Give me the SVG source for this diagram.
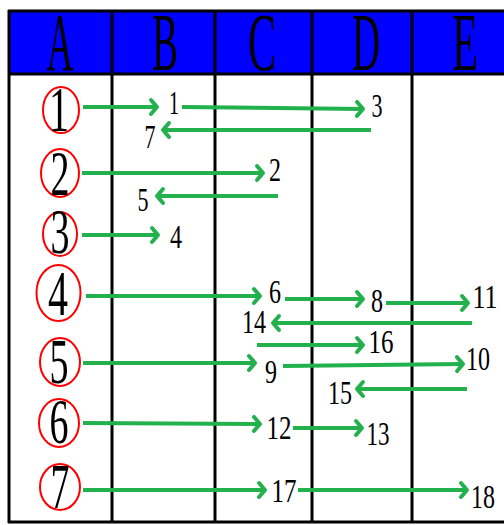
<svg xmlns="http://www.w3.org/2000/svg" width="504" height="525" viewBox="0 0 504 525">
<style>
.grid{stroke:#000;stroke-width:3;fill:none}
.hdr{font-family:"Liberation Serif",serif;font-size:82px;fill:#000;text-anchor:middle}
.circ{fill:none;stroke:#ff0000;stroke-width:2}
.cd{font-family:"Liberation Serif",serif;font-size:64px;fill:#000;text-anchor:middle}
.lbl{font-family:"Liberation Serif",serif;font-size:33px;fill:#000;text-anchor:middle}
.ar{stroke:#22b14c;stroke-width:4;fill:none;marker-end:url(#ah)}
</style>
<defs>
<marker id="ah" markerUnits="userSpaceOnUse" markerWidth="20" markerHeight="20" viewBox="-10 -10 20 20" refX="0" refY="0" orient="auto">
<path d="M-6,-7 L0,0 L-6,7" fill="none" stroke="#22b14c" stroke-width="4" stroke-linecap="round" stroke-linejoin="round"/>
</marker>
</defs>
<rect x="0" y="0" width="504" height="525" fill="#fff"/>
<g id="table">
<rect x="9" y="11" width="497" height="63" fill="#0000ff"/>
<line class="grid" x1="8" y1="11" x2="504" y2="11"/>
<line class="grid" x1="8" y1="74" x2="504" y2="74"/>
<line class="grid" x1="9" y1="10" x2="9" y2="523"/>
<line class="grid" x1="112" y1="10" x2="112" y2="523"/>
<line class="grid" x1="215" y1="10" x2="215" y2="523"/>
<line class="grid" x1="312" y1="10" x2="312" y2="523"/>
<line class="grid" x1="412" y1="10" x2="412" y2="523"/>
<line class="grid" x1="8" y1="522" x2="504" y2="522"/>
<text class="hdr" x="60" y="70" textLength="27" lengthAdjust="spacingAndGlyphs">A</text>
<text class="hdr" x="165" y="70" textLength="26" lengthAdjust="spacingAndGlyphs">B</text>
<text class="hdr" x="262" y="70" textLength="28" lengthAdjust="spacingAndGlyphs">C</text>
<text class="hdr" x="366" y="70" textLength="28" lengthAdjust="spacingAndGlyphs">D</text>
<text class="hdr" x="465" y="70" textLength="26" lengthAdjust="spacingAndGlyphs">E</text>
</g>
<g id="r1"><ellipse class="circ" cx="61" cy="110" rx="18" ry="23"/><text class="cd" x="59" y="131" textLength="20" lengthAdjust="spacingAndGlyphs">1</text></g>
<g id="r2"><ellipse class="circ" cx="60" cy="173" rx="19" ry="24"/><text class="cd" x="60" y="195" textLength="19" lengthAdjust="spacingAndGlyphs">2</text></g>
<g id="r3"><ellipse class="circ" cx="60" cy="234" rx="17" ry="22"/><text class="cd" x="60" y="253" textLength="19" lengthAdjust="spacingAndGlyphs">3</text></g>
<g id="r4"><ellipse class="circ" cx="58.5" cy="293" rx="22" ry="28"/><text class="cd" x="58" y="315" textLength="20" lengthAdjust="spacingAndGlyphs">4</text></g>
<g id="r5"><ellipse class="circ" cx="60" cy="362" rx="20" ry="24"/><text class="cd" x="59" y="383" textLength="19" lengthAdjust="spacingAndGlyphs">5</text></g>
<g id="r6"><ellipse class="circ" cx="59" cy="423" rx="20" ry="24"/><text class="cd" x="59" y="443" textLength="19" lengthAdjust="spacingAndGlyphs">6</text></g>
<g id="r7"><ellipse class="circ" cx="60" cy="487" rx="20" ry="23"/><text class="cd" x="60" y="508" textLength="19" lengthAdjust="spacingAndGlyphs">7</text></g>
<g id="labels">
<g id="n1"><text class="lbl" x="174" y="114" textLength="10" lengthAdjust="spacingAndGlyphs">1</text></g>
<g id="n3"><text class="lbl" x="377" y="117" textLength="11" lengthAdjust="spacingAndGlyphs">3</text></g>
<g id="n7"><text class="lbl" x="150" y="148" textLength="11" lengthAdjust="spacingAndGlyphs">7</text></g>
<g id="n2"><text class="lbl" x="275" y="181" textLength="12" lengthAdjust="spacingAndGlyphs">2</text></g>
<g id="n5"><text class="lbl" x="143" y="211" textLength="11" lengthAdjust="spacingAndGlyphs">5</text></g>
<g id="n4"><text class="lbl" x="176" y="248" textLength="12" lengthAdjust="spacingAndGlyphs">4</text></g>
<g id="n6"><text class="lbl" x="275" y="303" textLength="12" lengthAdjust="spacingAndGlyphs">6</text></g>
<g id="n8"><text class="lbl" x="377" y="312" textLength="12" lengthAdjust="spacingAndGlyphs">8</text></g>
<g id="n11"><text class="lbl" x="485" y="308" textLength="25" lengthAdjust="spacingAndGlyphs">11</text></g>
<g id="n14"><text class="lbl" x="254" y="333" textLength="24" lengthAdjust="spacingAndGlyphs">14</text></g>
<g id="n16"><text class="lbl" x="381" y="353" textLength="25" lengthAdjust="spacingAndGlyphs">16</text></g>
<g id="n9"><text class="lbl" x="271" y="383" textLength="12" lengthAdjust="spacingAndGlyphs">9</text></g>
<g id="n10"><text class="lbl" x="478" y="370" textLength="24" lengthAdjust="spacingAndGlyphs">10</text></g>
<g id="n15"><text class="lbl" x="340" y="404" textLength="24" lengthAdjust="spacingAndGlyphs">15</text></g>
<g id="n12"><text class="lbl" x="279" y="439" textLength="25" lengthAdjust="spacingAndGlyphs">12</text></g>
<g id="n13"><text class="lbl" x="378" y="445" textLength="23" lengthAdjust="spacingAndGlyphs">13</text></g>
<g id="n17"><text class="lbl" x="284" y="502" textLength="25" lengthAdjust="spacingAndGlyphs">17</text></g>
<g id="n18"><text class="lbl" x="483" y="508" textLength="24" lengthAdjust="spacingAndGlyphs">18</text></g>
</g>
<g id="connectors">
<line class="ar" x1="83" y1="107" x2="157" y2="107"/>
<line class="ar" x1="182" y1="107" x2="363" y2="109"/>
<line class="ar" x1="371" y1="130" x2="163" y2="130"/>
<line class="ar" x1="82" y1="173" x2="263" y2="173"/>
<line class="ar" x1="278" y1="196" x2="157" y2="196"/>
<line class="ar" x1="82" y1="235" x2="158" y2="235"/>
<line class="ar" x1="86" y1="296" x2="260" y2="296"/>
<line class="ar" x1="285" y1="299" x2="363" y2="299"/>
<line class="ar" x1="386" y1="303" x2="468" y2="303"/>
<line class="ar" x1="472" y1="323" x2="273" y2="323"/>
<line class="ar" x1="257" y1="345" x2="363" y2="345"/>
<line class="ar" x1="83" y1="363" x2="255" y2="363"/>
<line class="ar" x1="283" y1="366" x2="463" y2="364"/>
<line class="ar" x1="467" y1="389" x2="357" y2="389"/>
<line class="ar" x1="83" y1="423" x2="260" y2="424"/>
<line class="ar" x1="293" y1="428" x2="362" y2="428"/>
<line class="ar" x1="83" y1="490" x2="265" y2="490"/>
<line class="ar" x1="298" y1="490" x2="467" y2="490"/>
</g>
</svg>
